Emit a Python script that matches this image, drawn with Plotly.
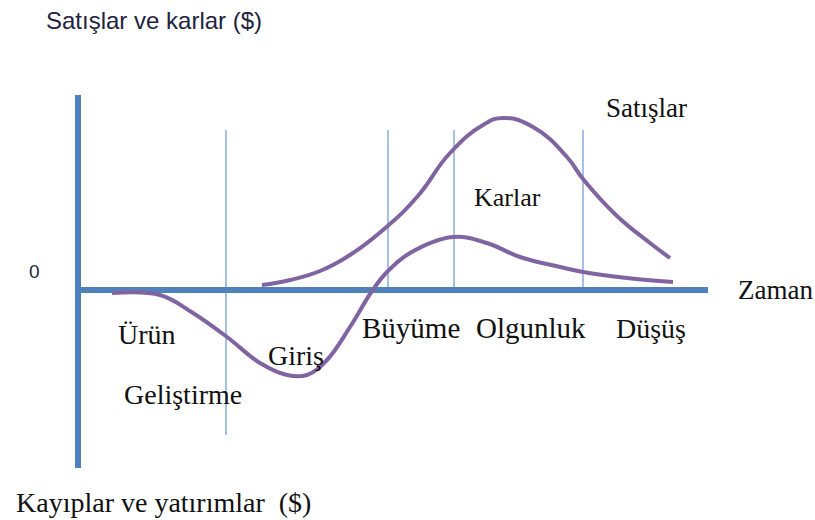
import plotly.graph_objects as go

# Product life cycle: time runs along x, dollars along y (0 = break-even line)
profit_t = [34, 82, 115, 149, 182, 209, 229, 249, 272, 294, 309, 332, 375, 409, 442, 482, 505, 549, 595]
profit_v = [-3, -5, -23, -47, -73, -85, -85, -70, -37, -1, 18, 37, 53, 47, 33, 23, 18, 12, 8]

sales_t = [184, 212, 242, 272, 305, 339, 372, 405, 425, 455, 489, 505, 539, 572, 592]
sales_v = [5, 10, 19, 35, 60, 93, 137, 165, 172, 163, 133, 111, 74, 47, 32]

# Boundaries between the life-cycle stages
stage_bounds = [148, 310, 376, 505]
stage_bottoms = [-145, 0, 0, 0]
stage_top = 160

AXIS_BLUE = "#4F81BD"
STAGE_BLUE = "#8EB1DC"
PURPLE = "#8064A2"
SERIF = "Liberation Serif"
SANS = "Liberation Sans"

fig = go.Figure()

# Stage divider lines
for xb, yb in zip(stage_bounds, stage_bottoms):
    fig.add_trace(go.Scatter(x=[xb, xb], y=[yb, stage_top], mode="lines",
                             line=dict(color=STAGE_BLUE, width=1.6), hoverinfo="skip"))

# Main axes
fig.add_trace(go.Scatter(x=[-3, 630], y=[0, 0], mode="lines",
                         line=dict(color=AXIS_BLUE, width=6), hoverinfo="skip"))
fig.add_trace(go.Scatter(x=[0, 0], y=[-178, 195], mode="lines",
                         line=dict(color=AXIS_BLUE, width=6), hoverinfo="skip"))

# Curves
fig.add_trace(go.Scatter(x=sales_t, y=sales_v, mode="lines", name="Satışlar",
                         line=dict(color=PURPLE, width=4, shape="spline", smoothing=1.3)))
fig.add_trace(go.Scatter(x=profit_t, y=profit_v, mode="lines", name="Karlar",
                         line=dict(color=PURPLE, width=4, shape="spline", smoothing=1.1)))

labels = [
    ("Satışlar ve karlar ($)", -33, 270, SANS, 24, "#1f2340"),
    ("Kayıplar ve yatırımlar  ($)", -63, -212, SERIF, 28, "#111111"),
    ("0", -50, 19, SANS, 19, "#1f2340"),
    ("Zaman", 659, 0, SERIF, 27, "#111111"),
    ("Satışlar", 527, 182, SERIF, 27, "#111111"),
    ("Karlar", 395, 93, SERIF, 26, "#111111"),
    ("Ürün", 39, -44, SERIF, 28, "#111111"),
    ("Geliştirme", 45, -104, SERIF, 28, "#111111"),
    ("Giriş", 189, -65, SERIF, 28, "#111111"),
    ("Büyüme", 283, -38, SERIF, 29, "#111111"),
    ("Olgunluk", 397, -38, SERIF, 29, "#111111"),
    ("Düşüş", 537, -38, SERIF, 28, "#111111"),
]
for text, x, y, fam, size, col in labels:
    fig.add_annotation(x=x, y=y, text=text, showarrow=False, xanchor="left", yanchor="middle",
                       font=dict(family=fam, size=size, color=col), borderpad=0)

fig.update_layout(
    width=815, height=520,
    margin=dict(l=0, r=0, t=0, b=0),
    paper_bgcolor="white", plot_bgcolor="white",
    showlegend=False,
    xaxis=dict(range=[-78, 737], visible=False, fixedrange=True),
    yaxis=dict(range=[-230, 290], visible=False, fixedrange=True),
)

fig.write_html("out.html", config={"displayModeBar": False})
